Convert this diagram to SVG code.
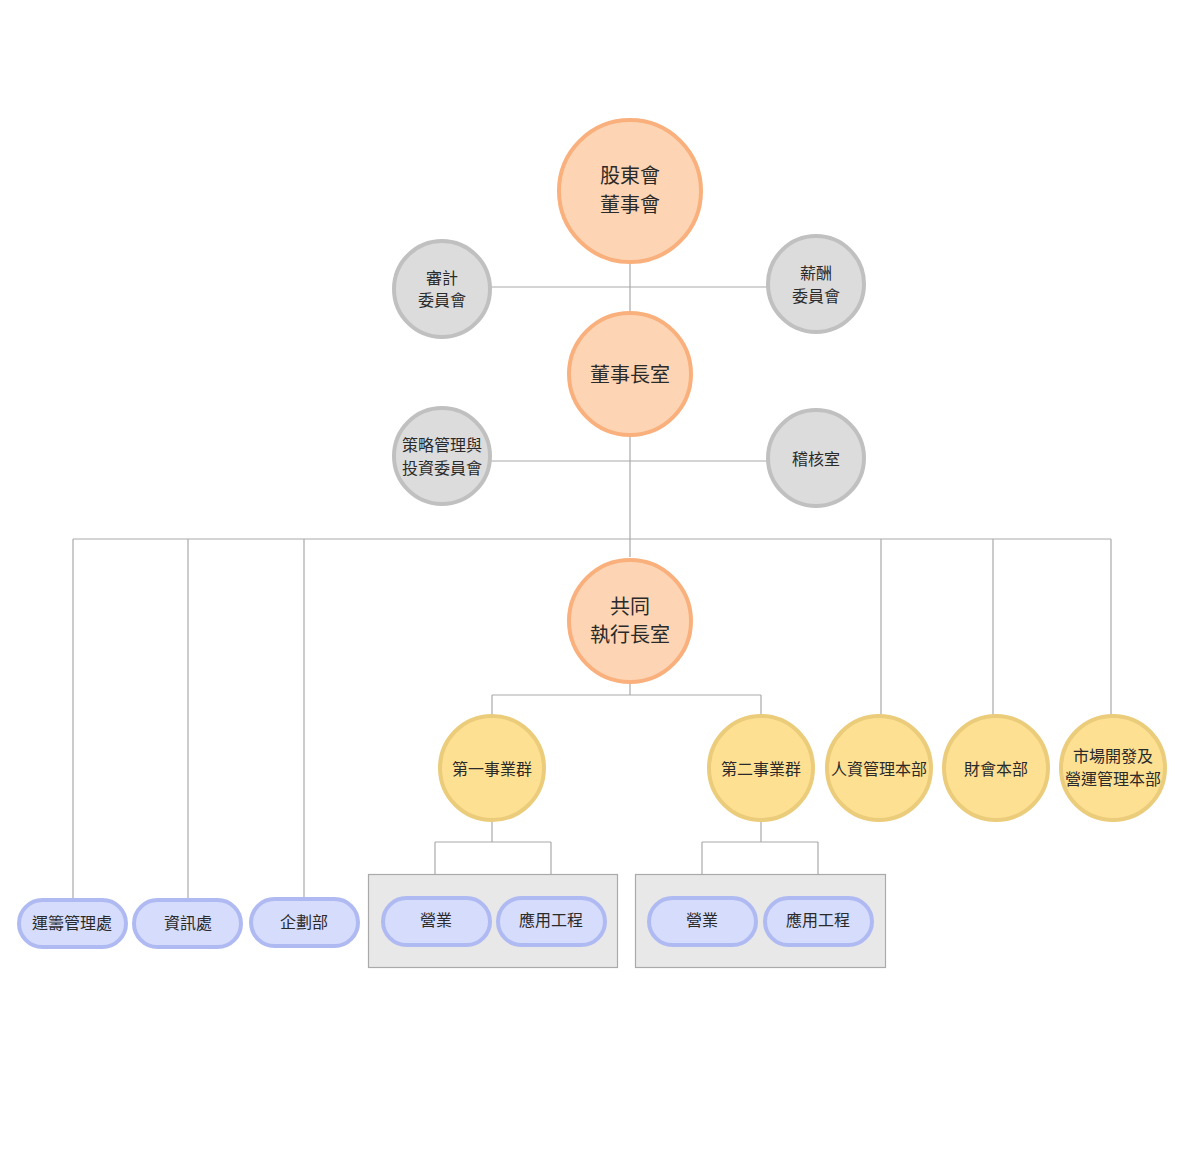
<svg xmlns="http://www.w3.org/2000/svg" width="1199" height="1155" viewBox="0 0 1199 1155">
<style>
text{font-family:"Liberation Sans","Noto Sans CJK TC",sans-serif;fill:#2a2a2a;text-anchor:middle;dominant-baseline:central}
.o{fill:#fdd5b4;stroke:#f9b07c;stroke-width:4}
.g{fill:#dcdcdc;stroke:#c0c0c0;stroke-width:4}
.y{fill:#fee093;stroke:#ebcc7b;stroke-width:4}
.p{fill:#d6dcfc;stroke:#b0baf2;stroke-width:4}
.box{fill:#e8e8e8;stroke:#aaa;stroke-width:1.2}
.l{fill:none;stroke:#aaa;stroke-width:1.2}
.big{font-size:20px}
.s{font-size:16px}
</style>
<rect width="1199" height="1155" fill="#fff"/>
<g id="connectors" class="l">
<path d="M630 263V312M491 287H767M630 436V557M491 461H767M73 539H1111"/>
<path d="M73 539V899M188 539V899M304 539V898M881 539V715M993 539V715M1111 539V715"/>
<path d="M630 683V695M492 695H761M492 695V715M761 695V715"/>
<path d="M492 821V842M435 842H551M435 842V874M551 842V874"/>
<path d="M761 821V842M702 842H818M702 842V874M818 842V874"/>
</g>
<g id="shareholders"><circle class="o" cx="630" cy="191" r="71"/><text class="big" x="630" y="176">股東會</text><text class="big" x="630" y="205">董事會</text></g>
<g id="audit"><circle class="g" cx="442" cy="289" r="48"/><text class="s" x="442" y="278">審計</text><text class="s" x="442" y="300">委員會</text></g>
<g id="salary"><circle class="g" cx="816" cy="284" r="48"/><text class="s" x="816" y="273">薪酬</text><text class="s" x="816" y="296">委員會</text></g>
<g id="chairman"><circle class="o" cx="630" cy="374" r="61"/><text class="big" x="630" y="375">董事長室</text></g>
<g id="strategy"><circle class="g" cx="442" cy="456" r="48"/><text class="s" x="442" y="445">策略管理與</text><text class="s" x="442" y="468">投資委員會</text></g>
<g id="inspect"><circle class="g" cx="816" cy="458" r="48"/><text class="s" x="816" y="459">稽核室</text></g>
<g id="ceo"><circle class="o" cx="630" cy="621" r="61"/><text class="big" x="630" y="607">共同</text><text class="big" x="630" y="635">執行長室</text></g>
<g id="bg1"><circle class="y" cx="492" cy="768" r="52"/><text class="s" x="492" y="769">第一事業群</text></g>
<g id="bg2"><circle class="y" cx="761" cy="768" r="52"/><text class="s" x="761" y="769">第二事業群</text></g>
<g id="hr"><circle class="y" cx="879" cy="768" r="52"/><text class="s" x="879" y="769">人資管理本部</text></g>
<g id="fin"><circle class="y" cx="996" cy="768" r="52"/><text class="s" x="996" y="769">財會本部</text></g>
<g id="mkt"><circle class="y" cx="1113" cy="768" r="52"/><text class="s" x="1113" y="756">市場開發及</text><text class="s" x="1113" y="779">營運管理本部</text></g>
<g id="ops"><rect class="p" x="19" y="900" width="107" height="47" rx="23.5"/><text class="s" x="72" y="923">運籌管理處</text></g>
<g id="it"><rect class="p" x="134" y="900" width="107" height="47" rx="23.5"/><text class="s" x="188" y="923">資訊處</text></g>
<g id="plan"><rect class="p" x="251" y="899" width="107" height="47" rx="23.5"/><text class="s" x="304" y="922">企劃部</text></g>
<g id="group1"><rect class="box" x="368.5" y="874.5" width="249" height="93"/>
<g id="sales1"><rect class="p" x="383" y="898" width="107" height="47" rx="23.5"/><text class="s" x="436" y="920">營業</text></g>
<g id="eng1"><rect class="p" x="498" y="898" width="107" height="47" rx="23.5"/><text class="s" x="551" y="920">應用工程</text></g></g>
<g id="group2"><rect class="box" x="635.5" y="874.5" width="250" height="93"/>
<g id="sales2"><rect class="p" x="649" y="898" width="107" height="47" rx="23.5"/><text class="s" x="702" y="920">營業</text></g>
<g id="eng2"><rect class="p" x="765" y="898" width="107" height="47" rx="23.5"/><text class="s" x="818" y="920">應用工程</text></g></g>
</svg>
